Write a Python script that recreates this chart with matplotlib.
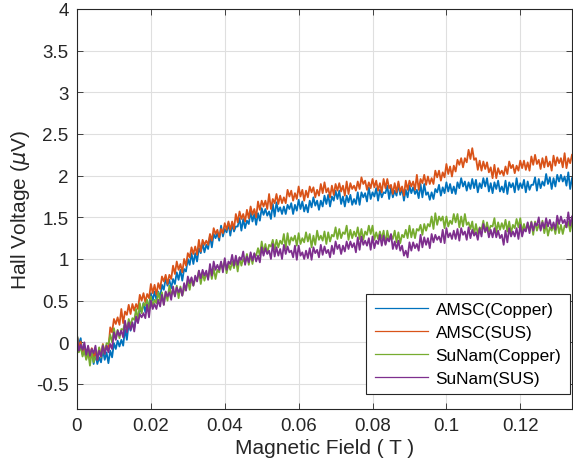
import numpy as np
import matplotlib
matplotlib.use("Agg")
import matplotlib.pyplot as plt
from matplotlib.ticker import FuncFormatter

# readings every 0.5 mT: "_on" at whole mT (0 ... 134 mT), "_half" in between
HALF_STEP = 0.0005

amsc_copper_on = [
    0.08, 0.05, -0.04, -0.12, -0.08, -0.14, -0.18, -0.09, -0.12, -0.10,
    -0.01, 0.02, 0.03, 0.16, 0.23, 0.22, 0.30, 0.39, 0.47, 0.48,
    0.59, 0.61, 0.61, 0.69, 0.77, 0.75, 0.76, 0.84, 0.87, 0.88,
    1.00, 1.07, 1.07, 1.13, 1.19, 1.17, 1.28, 1.30, 1.31, 1.40,
    1.36, 1.43, 1.42, 1.39, 1.49, 1.48, 1.46, 1.57, 1.54, 1.55,
    1.61, 1.60, 1.57, 1.66, 1.68, 1.62, 1.63, 1.65, 1.67, 1.65,
    1.71, 1.69, 1.65, 1.70, 1.74, 1.70, 1.70, 1.76, 1.77, 1.75,
    1.82, 1.82, 1.75, 1.76, 1.77, 1.72, 1.80, 1.80, 1.79, 1.86,
    1.80, 1.85, 1.83, 1.80, 1.88, 1.86, 1.82, 1.90, 1.85, 1.83,
    1.88, 1.86, 1.83, 1.90, 1.90, 1.80, 1.80, 1.84, 1.89, 1.86,
    1.92, 1.90, 1.87, 1.92, 1.97, 1.93, 1.92, 1.96, 1.95, 1.91,
    1.97, 1.97, 1.91, 1.92, 1.94, 1.87, 1.94, 1.92, 1.91, 1.97,
    1.91, 1.95, 1.93, 1.89, 1.98, 1.96, 1.93, 2.02, 1.98, 1.97,
    2.01, 2.01, 1.99, 2.04, 1.97,
]
amsc_copper_half = [
    -0.02, -0.14, -0.16, -0.15, -0.26, -0.26, -0.24, -0.21, -0.25, -0.18,
    -0.08, -0.05, -0.04, 0.03, 0.14, 0.17, 0.25, 0.37, 0.36, 0.43,
    0.50, 0.51, 0.53, 0.63, 0.68, 0.65, 0.70, 0.75, 0.74, 0.85,
    0.93, 0.94, 0.97, 1.07, 1.08, 1.12, 1.14, 1.25, 1.22, 1.27,
    1.32, 1.28, 1.33, 1.39, 1.34, 1.37, 1.42, 1.45, 1.41, 1.46,
    1.53, 1.52, 1.48, 1.51, 1.57, 1.54, 1.54, 1.60, 1.54, 1.58,
    1.60, 1.57, 1.56, 1.62, 1.64, 1.59, 1.63, 1.66, 1.63, 1.70,
    1.72, 1.66, 1.63, 1.68, 1.65, 1.66, 1.65, 1.74, 1.69, 1.72,
    1.75, 1.70, 1.74, 1.79, 1.72, 1.74, 1.76, 1.77, 1.70, 1.74,
    1.79, 1.78, 1.73, 1.74, 1.77, 1.71, 1.72, 1.80, 1.76, 1.79,
    1.81, 1.79, 1.78, 1.85, 1.87, 1.82, 1.84, 1.85, 1.80, 1.85,
    1.87, 1.81, 1.79, 1.84, 1.81, 1.80, 1.78, 1.86, 1.80, 1.83,
    1.85, 1.80, 1.83, 1.89, 1.82, 1.85, 1.88, 1.90, 1.84, 1.87,
    1.93, 1.93, 1.88, 1.84,
]

amsc_sus_on = [
    0.08, 0.01, -0.08, -0.05, -0.07, -0.11, -0.07, -0.02, -0.04, 0.18,
    0.28, 0.30, 0.40, 0.37, 0.45, 0.46, 0.46, 0.57, 0.59, 0.58,
    0.70, 0.69, 0.71, 0.79, 0.81, 0.81, 0.92, 0.97, 0.94, 1.00,
    1.07, 1.14, 1.15, 1.23, 1.23, 1.22, 1.30, 1.37, 1.35, 1.36,
    1.43, 1.45, 1.45, 1.54, 1.57, 1.54, 1.59, 1.63, 1.60, 1.69,
    1.70, 1.70, 1.78, 1.72, 1.78, 1.76, 1.74, 1.83, 1.82, 1.79,
    1.87, 1.83, 1.82, 1.87, 1.86, 1.83, 1.90, 1.92, 1.85, 1.88,
    1.90, 1.91, 1.88, 1.93, 1.91, 1.88, 1.93, 1.98, 1.94, 1.92,
    1.96, 1.94, 1.91, 1.96, 1.96, 1.89, 1.91, 1.93, 1.87, 1.94,
    1.94, 1.93, 2.01, 1.96, 2.01, 1.99, 1.97, 2.06, 2.06, 2.04,
    2.14, 2.11, 2.12, 2.19, 2.21, 2.21, 2.31, 2.33, 2.21, 2.18,
    2.17, 2.16, 2.10, 2.13, 2.09, 2.06, 2.11, 2.17, 2.13, 2.12,
    2.18, 2.18, 2.16, 2.23, 2.25, 2.19, 2.21, 2.23, 2.17, 2.24,
    2.22, 2.21, 2.27, 2.21, 2.25,
]
amsc_sus_half = [
    -0.05, -0.14, -0.20, -0.18, -0.17, -0.21, -0.17, -0.12, -0.08, 0.12,
    0.22, 0.21, 0.23, 0.33, 0.34, 0.38, 0.40, 0.50, 0.48, 0.53,
    0.59, 0.57, 0.64, 0.73, 0.70, 0.76, 0.82, 0.87, 0.84, 0.92,
    1.02, 1.06, 1.05, 1.09, 1.17, 1.17, 1.22, 1.30, 1.26, 1.31,
    1.35, 1.35, 1.36, 1.44, 1.48, 1.45, 1.49, 1.53, 1.50, 1.59,
    1.63, 1.60, 1.60, 1.67, 1.66, 1.67, 1.67, 1.75, 1.70, 1.72,
    1.75, 1.70, 1.74, 1.80, 1.74, 1.76, 1.79, 1.80, 1.74, 1.77,
    1.82, 1.81, 1.76, 1.78, 1.84, 1.82, 1.84, 1.90, 1.83, 1.85,
    1.86, 1.82, 1.80, 1.85, 1.85, 1.78, 1.80, 1.81, 1.76, 1.83,
    1.87, 1.83, 1.83, 1.91, 1.89, 1.90, 1.90, 1.98, 1.94, 1.98,
    2.02, 1.99, 2.05, 2.13, 2.10, 2.16, 2.20, 2.19, 2.07, 2.06,
    2.08, 2.04, 1.97, 1.97, 2.02, 2.00, 2.02, 2.09, 2.03, 2.06,
    2.09, 2.07, 2.06, 2.13, 2.14, 2.08, 2.10, 2.11, 2.06, 2.12,
    2.15, 2.10, 2.09, 2.15,
]

sunam_copper_on = [
    0.09, -0.05, -0.10, -0.11, -0.12, -0.17, -0.06, -0.03, -0.01, 0.09,
    0.17, 0.15, 0.16, 0.24, 0.28, 0.29, 0.40, 0.47, 0.47, 0.51,
    0.55, 0.51, 0.60, 0.60, 0.60, 0.68, 0.62, 0.68, 0.67, 0.64,
    0.75, 0.77, 0.76, 0.86, 0.83, 0.83, 0.89, 0.89, 0.87, 0.96,
    0.99, 0.94, 0.97, 1.00, 1.02, 1.00, 1.06, 1.06, 1.06, 1.13,
    1.21, 1.18, 1.17, 1.23, 1.23, 1.22, 1.30, 1.31, 1.26, 1.28,
    1.31, 1.25, 1.32, 1.30, 1.28, 1.34, 1.28, 1.33, 1.32, 1.29,
    1.38, 1.36, 1.32, 1.40, 1.35, 1.33, 1.38, 1.36, 1.33, 1.40,
    1.40, 1.32, 1.33, 1.34, 1.34, 1.29, 1.34, 1.32, 1.29, 1.35,
    1.40, 1.36, 1.36, 1.41, 1.42, 1.42, 1.51, 1.55, 1.51, 1.51,
    1.51, 1.46, 1.54, 1.54, 1.51, 1.54, 1.44, 1.45, 1.42, 1.38,
    1.46, 1.44, 1.40, 1.49, 1.44, 1.43, 1.47, 1.45, 1.41, 1.48,
    1.49, 1.42, 1.43, 1.45, 1.45, 1.41, 1.46, 1.42, 1.38, 1.41,
    1.45, 1.41, 1.40, 1.45, 1.45,
]
sunam_copper_half = [
    -0.12, -0.17, -0.21, -0.28, -0.24, -0.19, -0.18, -0.14, -0.02, 0.00,
    0.04, 0.05, 0.15, 0.14, 0.20, 0.27, 0.26, 0.35, 0.44, 0.39,
    0.43, 0.47, 0.50, 0.45, 0.50, 0.57, 0.56, 0.53, 0.56, 0.63,
    0.63, 0.68, 0.75, 0.70, 0.74, 0.77, 0.76, 0.76, 0.84, 0.87,
    0.83, 0.87, 0.89, 0.85, 0.92, 0.96, 0.93, 0.94, 1.04, 1.04,
    1.07, 1.07, 1.15, 1.11, 1.14, 1.18, 1.13, 1.17, 1.22, 1.16,
    1.18, 1.20, 1.21, 1.14, 1.17, 1.23, 1.22, 1.18, 1.21, 1.27,
    1.24, 1.25, 1.30, 1.23, 1.25, 1.27, 1.24, 1.23, 1.29, 1.30,
    1.23, 1.24, 1.24, 1.18, 1.23, 1.24, 1.20, 1.19, 1.26, 1.25,
    1.26, 1.25, 1.34, 1.29, 1.34, 1.39, 1.36, 1.41, 1.46, 1.37,
    1.39, 1.42, 1.44, 1.38, 1.39, 1.41, 1.36, 1.29, 1.30, 1.35,
    1.32, 1.33, 1.39, 1.32, 1.35, 1.36, 1.33, 1.31, 1.37, 1.38,
    1.32, 1.34, 1.34, 1.29, 1.34, 1.36, 1.31, 1.28, 1.34, 1.30,
    1.31, 1.30, 1.38, 1.33,
]

sunam_sus_on = [
    0.07, -0.03, 0.00, -0.04, -0.08, -0.04, -0.10, -0.04, -0.04, -0.02,
    0.12, 0.14, 0.14, 0.26, 0.24, 0.24, 0.31, 0.34, 0.35, 0.45,
    0.50, 0.46, 0.51, 0.57, 0.61, 0.60, 0.67, 0.66, 0.65, 0.71,
    0.79, 0.78, 0.80, 0.86, 0.87, 0.86, 0.94, 0.97, 0.93, 0.97,
    1.01, 0.97, 1.05, 1.04, 1.02, 1.09, 1.03, 1.08, 1.07, 1.04,
    1.14, 1.13, 1.10, 1.18, 1.14, 1.12, 1.17, 1.15, 1.10, 1.16,
    1.16, 1.08, 1.10, 1.13, 1.14, 1.11, 1.17, 1.15, 1.11, 1.16,
    1.21, 1.17, 1.16, 1.21, 1.21, 1.19, 1.26, 1.27, 1.22, 1.25,
    1.27, 1.22, 1.29, 1.28, 1.25, 1.30, 1.21, 1.22, 1.16, 1.10,
    1.20, 1.20, 1.18, 1.29, 1.26, 1.25, 1.30, 1.29, 1.27, 1.35,
    1.37, 1.31, 1.34, 1.36, 1.37, 1.33, 1.38, 1.35, 1.32, 1.37,
    1.42, 1.38, 1.35, 1.37, 1.34, 1.29, 1.34, 1.37, 1.33, 1.37,
    1.41, 1.36, 1.44, 1.44, 1.43, 1.50, 1.44, 1.49, 1.47, 1.44,
    1.52, 1.51, 1.47, 1.56, 1.51,
]
sunam_sus_half = [
    -0.10, -0.09, -0.15, -0.16, -0.13, -0.21, -0.17, -0.14, -0.12, -0.08,
    0.03, 0.08, 0.06, 0.12, 0.15, 0.13, 0.23, 0.30, 0.29, 0.30,
    0.40, 0.40, 0.43, 0.45, 0.55, 0.51, 0.55, 0.60, 0.56, 0.62,
    0.71, 0.68, 0.73, 0.77, 0.80, 0.75, 0.80, 0.87, 0.87, 0.84,
    0.87, 0.94, 0.92, 0.93, 0.99, 0.93, 0.96, 0.98, 0.97, 0.96,
    1.04, 1.06, 1.00, 1.03, 1.04, 1.00, 1.06, 1.08, 1.02, 0.99,
    1.04, 1.00, 1.01, 0.99, 1.07, 1.02, 1.05, 1.07, 1.02, 1.06,
    1.12, 1.06, 1.09, 1.12, 1.14, 1.08, 1.11, 1.17, 1.16, 1.11,
    1.13, 1.18, 1.16, 1.17, 1.21, 1.12, 1.12, 1.10, 1.04, 1.02,
    1.10, 1.13, 1.10, 1.14, 1.17, 1.13, 1.20, 1.23, 1.20, 1.19,
    1.26, 1.24, 1.24, 1.22, 1.29, 1.23, 1.25, 1.28, 1.23, 1.27,
    1.33, 1.26, 1.26, 1.26, 1.25, 1.17, 1.20, 1.27, 1.27, 1.24,
    1.27, 1.33, 1.31, 1.34, 1.40, 1.34, 1.37, 1.39, 1.37, 1.35,
    1.42, 1.43, 1.38, 1.40,
]

series_names = ["AMSC(Copper)", "AMSC(SUS)", "SuNam(Copper)", "SuNam(SUS)"]
series_colors = ["#0072BD", "#D95319", "#77AC30", "#7E2F8E"]

x_ticks = [0, 0.02, 0.04, 0.06, 0.08, 0.1, 0.12]
y_ticks = [-0.5, 0, 0.5, 1, 1.5, 2, 2.5, 3, 3.5, 4]


def interleave(on, half):
    out = np.empty(len(on) + len(half))
    out[0::2] = on
    out[1::2] = half
    return out


plt.rcParams['font.family'] = ['Liberation Sans', 'DejaVu Sans']
plt.rcParams['axes.unicode_minus'] = False

INK = '#262626'

fig = plt.figure(figsize=(5.73, 4.77), dpi=100)
ax = fig.add_axes([77 / 573, 1 - 410 / 477, 495 / 573, 400 / 477])

all_series = [
    interleave(amsc_copper_on, amsc_copper_half),
    interleave(amsc_sus_on, amsc_sus_half),
    interleave(sunam_copper_on, sunam_copper_half),
    interleave(sunam_sus_on, sunam_sus_half),
]
field = np.arange(len(all_series[0])) * HALF_STEP
for vals, name, col in zip(all_series, series_names, series_colors):
    ax.plot(field, vals, color=col, lw=1.3, label=name)

ax.set_xlim(0, 0.134)
ax.set_ylim(-0.8, 4)
ax.set_xticks(x_ticks)
ax.set_yticks(y_ticks)
fmt = FuncFormatter(lambda v, p: '%g' % v)
ax.xaxis.set_major_formatter(fmt)
ax.yaxis.set_major_formatter(fmt)

ax.grid(True, color='#dfdfdf', lw=0.8)
ax.set_axisbelow(True)
ax.tick_params(direction='in', length=4, width=0.6, colors=INK,
               labelsize=13.5, top=True, right=True, pad=6)
for sp in ax.spines.values():
    sp.set_color(INK)
    sp.set_linewidth(0.8)

ax.set_xlabel('Magnetic Field ( T )', fontsize=15, color=INK, labelpad=3)
ax.set_ylabel(r'Hall Voltage ($\mu$V)', fontsize=15, color=INK, labelpad=3)

leg = ax.legend(loc='lower right', fontsize=12.4, frameon=True, fancybox=False,
                framealpha=1, edgecolor=INK, handlelength=3.1,
                labelspacing=0.45, borderpad=0.5, handletextpad=0.45,
                borderaxespad=0.0, bbox_to_anchor=(0.996, 0.037))
leg.get_frame().set_linewidth(0.8)
for line in leg.get_lines():
    line.set_linewidth(0.9)

fig.savefig('out.png', dpi=100)
